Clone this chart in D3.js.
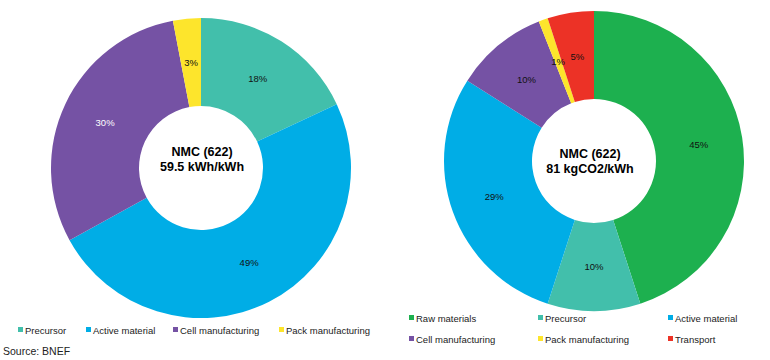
<!DOCTYPE html>
<html>
<head>
<meta charset="utf-8">
<script src="https://cdn.jsdelivr.net/npm/d3@7"></script>
<style>
  html, body { margin: 0; padding: 0; background: #ffffff; }
  svg { display: block; font-family: "Liberation Sans", Arial, sans-serif; }
</style>
</head>
<body>
<svg id="chart" width="770" height="360"></svg>
<script>
// Left donut: energy intensity
const leftCategories = ["Precursor", "Active material", "Cell manufacturing", "Pack manufacturing"];
const leftValues = [18, 49, 30, 3];
const leftTitle = ["NMC (622)", "59.5 kWh/kWh"];

// Right donut: emissions intensity
const rightCategories = ["Raw materials", "Precursor", "Active material", "Cell manufacturing", "Pack manufacturing", "Transport"];
const rightValues = [45, 10, 29, 10, 1, 5];
const rightTitle = ["NMC (622)", "81 kgCO2/kWh"];

const sourceText = "Source: BNEF";

const colorMap = {
  "Raw materials": "#1db04f",
  "Precursor": "#42bfab",
  "Active material": "#00ade6",
  "Cell manufacturing": "#7552a4",
  "Pack manufacturing": "#fde52c",
  "Transport": "#ec3226"
};
const labelColor = {
  "Cell manufacturing": "#ffffff"
};

const svg = d3.select("#chart");

function donut(cx, cy, cats, vals, title, titleDx, titleY1, titleY2, whiteCats) {
  const g = svg.append("g").attr("transform", `translate(${cx},${cy})`);
  const data = cats.map((c, i) => ({cat: c, value: vals[i]}));
  const pie = d3.pie().value(d => d.value).sort(null);
  const arc = d3.arc().innerRadius(62).outerRadius(150);
  const labelArc = d3.arc().innerRadius(62).outerRadius(150);
  const arcs = pie(data);
  g.selectAll("path.slice").data(arcs).join("path")
    .attr("class", "slice")
    .attr("d", arc)
    .attr("fill", d => colorMap[d.data.cat]);
  g.selectAll("text.pct").data(arcs).join("text")
    .attr("class", "pct")
    .attr("transform", d => `translate(${labelArc.centroid(d)})`)
    .attr("text-anchor", "middle")
    .attr("dy", "0.35em")
    .attr("font-size", 9.5)
    .attr("fill", d => whiteCats.includes(d.data.cat) ? "#ffffff" : "#111111")
    .text(d => d.data.value + "%");
  g.append("text").attr("x", titleDx).attr("y", titleY1)
    .attr("text-anchor", "middle").attr("font-size", 12.5).attr("font-weight", "bold")
    .attr("fill", "#000").text(title[0]);
  g.append("text").attr("x", titleDx).attr("y", titleY2)
    .attr("text-anchor", "middle").attr("font-size", 12.5).attr("font-weight", "bold")
    .attr("fill", "#000").text(title[1]);
}

donut(201, 168, leftCategories, leftValues, leftTitle, 1, -12, 3, ["Cell manufacturing"]);
donut(594, 161, rightCategories, rightValues, rightTitle, -4, -3, 12, []);

// Left legend (single row)
const leftLegendX = [18, 86, 173, 279];
const lg = svg.append("g");
leftCategories.forEach((c, i) => {
  lg.append("rect").attr("x", leftLegendX[i]).attr("y", 327).attr("width", 5).attr("height", 5).attr("fill", colorMap[c]);
  lg.append("text").attr("x", leftLegendX[i] + 7).attr("y", 333.5).attr("font-size", 9.5).attr("fill", "#222").text(c);
});

// Right legend (two rows x three columns)
const rightLegendX = [409, 538, 668];
const rightLegendY = [318, 339];
const rg = svg.append("g");
rightCategories.forEach((c, i) => {
  const x = rightLegendX[i % 3];
  const y = rightLegendY[Math.floor(i / 3)];
  rg.append("rect").attr("x", x).attr("y", y - 3).attr("width", 5).attr("height", 5).attr("fill", colorMap[c]);
  rg.append("text").attr("x", x + 7).attr("y", y + 3.5).attr("font-size", 9.5).attr("fill", "#222").text(c);
});

svg.append("text").attr("x", 3).attr("y", 355).attr("font-size", 10.5).attr("fill", "#222").text(sourceText);
</script>
</body>
</html>
